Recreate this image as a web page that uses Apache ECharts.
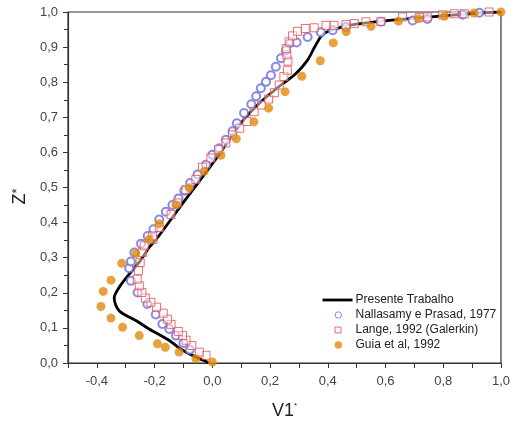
<!DOCTYPE html>
<html><head><meta charset="utf-8">
<script src="https://cdn.jsdelivr.net/npm/echarts@6/dist/echarts.min.js"></script>
<style>html,body{margin:0;padding:0;background:#fff}#c{width:513px;height:425px}</style>
</head><body><div id="c"></div>
<script>
// Presente Trabalho (solid line)
const lineZ = [0.0,0.017,0.040,0.064,0.097,0.121,0.149,0.185,0.215,0.253,0.291,0.329,0.357,0.471,0.584,0.674,0.740,0.792,0.825,0.863,0.901,0.934,0.948,0.955,0.962,0.976,0.988,0.997,1.0];
const lineV = [-0.01,-0.057,-0.110,-0.149,-0.219,-0.265,-0.323,-0.340,-0.323,-0.288,-0.250,-0.219,-0.190,-0.088,0.015,0.090,0.163,0.238,0.290,0.330,0.355,0.380,0.410,0.440,0.470,0.613,0.786,0.925,1.0];
// Nallasamy e Prasad, 1977 (open circles)
const nalZ = [0.038,0.057,0.078,0.097,0.111,0.138,0.168,0.201,0.234,0.270,0.289,0.315,0.340,0.362,0.381,0.409,0.431,0.450,0.469,0.491,0.513,0.537,0.565,0.593,0.612,0.636,0.660,0.683,0.712,0.737,0.760,0.783,0.801,0.820,0.844,0.868,0.891,0.912,0.913,0.929,0.942,0.948,0.957,0.972,0.976,0.980,0.992,0.998];
const nalV = [-0.078,-0.100,-0.126,-0.149,-0.173,-0.196,-0.225,-0.259,-0.282,-0.288,-0.282,-0.270,-0.247,-0.224,-0.204,-0.184,-0.161,-0.138,-0.117,-0.097,-0.077,-0.051,-0.022,0.000,0.024,0.047,0.070,0.085,0.110,0.135,0.152,0.168,0.186,0.203,0.220,0.238,0.255,0.270,0.292,0.330,0.376,0.417,0.463,0.584,0.694,0.745,0.867,0.925];
// Lange, 1992 (Galerkin) (open squares)
const lanZ = [0.022,0.031,0.050,0.065,0.078,0.090,0.110,0.125,0.142,0.159,0.173,0.185,0.201,0.220,0.239,0.263,0.286,0.315,0.334,0.352,0.362,0.386,0.423,0.456,0.494,0.523,0.558,0.584,0.608,0.627,0.650,0.669,0.688,0.716,0.735,0.752,0.770,0.792,0.816,0.834,0.860,0.878,0.896,0.915,0.932,0.945,0.953,0.955,0.962,0.962,0.964,0.967,0.972,0.973,0.986,0.984,0.986,0.992,0.995,0.995,1.0];
const lanV = [-0.022,-0.045,-0.071,-0.091,-0.103,-0.118,-0.143,-0.155,-0.170,-0.193,-0.213,-0.232,-0.244,-0.253,-0.260,-0.256,-0.250,-0.242,-0.236,-0.205,-0.207,-0.184,-0.143,-0.121,-0.091,-0.057,-0.034,-0.005,0.021,0.047,0.070,0.095,0.120,0.145,0.170,0.195,0.215,0.232,0.248,0.260,0.262,0.258,0.256,0.266,0.278,0.295,0.322,0.353,0.394,0.422,0.463,0.492,0.532,0.584,0.659,0.717,0.746,0.798,0.838,0.873,0.959];
// Guia et al, 1992 (filled circles)
const guiZ = [0.003,0.012,0.031,0.045,0.055,0.078,0.102,0.128,0.161,0.204,0.236,0.284,0.312,0.352,0.397,0.450,0.499,0.546,0.592,0.639,0.687,0.726,0.773,0.817,0.861,0.912,0.944,0.959,0.974,0.981,0.988,0.997,1.000];
const guiV = [0.0,-0.057,-0.115,-0.163,-0.190,-0.253,-0.311,-0.351,-0.386,-0.378,-0.351,-0.314,-0.265,-0.219,-0.184,-0.126,-0.080,-0.028,0.030,0.083,0.144,0.195,0.252,0.310,0.374,0.419,0.464,0.550,0.645,0.714,0.804,0.907,1.000];
const names = ['Presente Trabalho','Nallasamy e Prasad, 1977','Lange, 1992 (Galerkin)','Guia et al, 1992'];

const zip = (v, z) => v.map((x, i) => [x, z[i]]);
const fmt = v => v.toFixed(1).replace('.', ',');
// legend icons in a 32x10 box (corner moveTo points fix the box)
const box = 'M0,0 M32,10 ';
const icCircle = 'path://' + box + 'M20,5 A3.2,3.2 0 1 1 13.6,5 A3.2,3.2 0 1 1 20,5 Z';
const icDot = 'path://' + box + 'M20.5,5 A3.7,3.7 0 1 1 13.1,5 A3.7,3.7 0 1 1 20.5,5 Z';
const icRect = 'path://' + box + 'M13.5,2 L19.5,2 L19.5,8 L13.5,8 Z';
const icLine = 'path://' + box + 'M1,3.6 L31,3.6 L31,6.4 L1,6.4 Z';
const BLUE = '#6b6be0', RED = '#e8484f', ORANGE = '#e2890f';

const chart = echarts.init(document.getElementById('c'));
chart.setOption({
  animation: false,
  backgroundColor: '#fff',
  grid: { left: 68, right: 10, top: 12, bottom: 59, show: true, borderColor: '#333', borderWidth: 1.2, backgroundColor: 'transparent' },
  xAxis: {
    type: 'value', min: -0.5, max: 1.0, interval: 0.1,
    name: 'V1{s|*}', nameLocation: 'middle', nameGap: 39,
    nameTextStyle: { fontFamily: 'Liberation Sans', fontSize: 18, color: '#222', rich: { s: { fontSize: 8, verticalAlign: 'top', padding: [0,0,10,0], color: '#222' } } },
    axisLine: { onZero: false, lineStyle: { color: '#333', width: 1.2 } },
    axisTick: { inside: false, length: 5, lineStyle: { color: '#333' } },
    axisLabel: { fontFamily: 'Liberation Sans', fontSize: 13, color: '#444', margin: 12,
      formatter: v => (Math.round(v * 10) % 2 === 0 ? fmt(v) : '') },
    splitLine: { show: false }
  },
  yAxis: {
    type: 'value', min: 0, max: 1.0, interval: 0.1,
    name: 'Z{s|*}', nameLocation: 'middle', nameGap: 36, nameRotate: 90,
    nameTextStyle: { fontFamily: 'Liberation Sans', fontSize: 18, color: '#222', padding: [0, 18, 0, 0],
      rich: { s: { fontSize: 13, verticalAlign: 'top', padding: [0,0,6,0], color: '#222' } } },
    axisLine: { onZero: false, lineStyle: { color: '#333', width: 1.2 } },
    axisTick: { inside: false, length: 5, lineStyle: { color: '#333' } },
    minorTick: { show: true, splitNumber: 2, length: 4, lineStyle: { color: '#333' } },
    axisLabel: { fontFamily: 'Liberation Sans', fontSize: 13, color: '#444', margin: 10, formatter: v => fmt(v) },
    splitLine: { show: false }
  },
  legend: {
    orient: 'vertical', left: 321, top: 294, itemGap: 3, itemWidth: 32, itemHeight: 10, padding: 0,
    textStyle: { fontFamily: 'Liberation Sans', fontSize: 12, color: '#222', padding: [0,0,0,-3] },
    data: [
      { name: names[0], icon: icLine, itemStyle: { color: '#000', borderWidth: 0 } },
      { name: names[1], icon: icCircle, itemStyle: { color: '#fff', borderColor: BLUE, borderWidth: 1 } },
      { name: names[2], icon: icRect, itemStyle: { color: '#fff', borderColor: RED, borderWidth: 1 } },
      { name: names[3], icon: icDot, itemStyle: { color: ORANGE, borderWidth: 0 } }
    ]
  },
  series: [
    { name: names[0], type: 'line', data: zip(lineV, lineZ), smooth: 0.3, showSymbol: false, symbol: 'none',
      lineStyle: { color: '#000', width: 2.8 }, itemStyle: { color: '#000' }, z: 2 },
    { name: names[1], type: 'scatter', data: zip(nalV, nalZ), symbol: 'emptyCircle', symbolSize: 8,
      itemStyle: { color: BLUE, borderColor: BLUE, borderWidth: 1 }, z: 3 },
    { name: names[2], type: 'scatter', data: zip(lanV, lanZ), symbol: 'rect', symbolSize: 8,
      itemStyle: { color: 'rgba(255,255,255,0.6)', borderColor: RED, borderWidth: 1 }, z: 4 },
    { name: names[3], type: 'scatter', data: zip(guiV, guiZ), symbol: 'circle', symbolSize: 9,
      itemStyle: { color: ORANGE }, z: 5 }
  ]
});
</script></body></html>
